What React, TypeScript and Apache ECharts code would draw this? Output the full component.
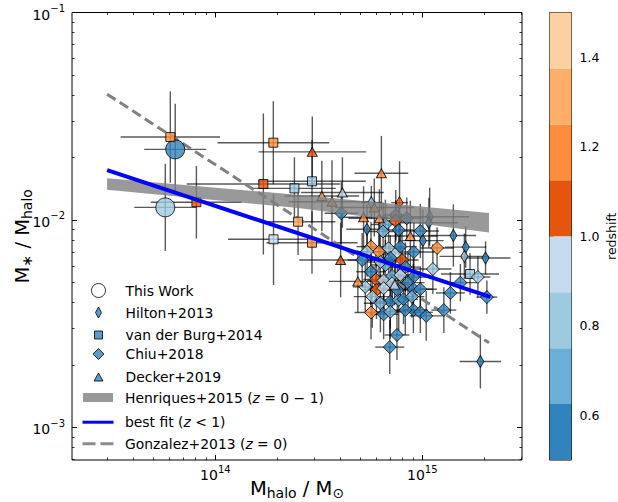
import React, { useEffect, useRef } from 'react';
import * as echarts from 'echarts';

const FONT = 'DejaVu Sans';

// Each row: [M_halo (Msun), M*/M_halo, redshift, sigma log M (dex), sigma log ratio (dex)]
const thisWork = [
  [6.4e13, 0.0219, 0.56, 0.15, 0.22],
  [5.73e13, 0.0115, 0.8, 0.15, 0.21],
];

const hilton2013 = [
  [5.67e14, 0.01214, 0.8, 0.05, 0.08],
  [7.76e14, 0.01212, 1.05, 0.04, 0.2],
  [1.085e15, 0.01037, 0.56, 0.19, 0.14],
  [1.075e15, 0.0097, 0.6, 0.14, 0.12],
  [5.4e14, 0.00902, 0.57, 0.1, 0.12],
  [1.006e15, 0.00795, 0.58, 0.1, 0.15],
  [1.412e15, 0.00842, 0.56, 0.11, 0.15],
  [1.62e15, 0.0074, 0.59, 0.1, 0.1],
  [1.596e15, 0.00668, 0.82, 0.12, 0.11],
  [2.02e15, 0.00656, 0.57, 0.12, 0.08],
  [1.907e15, 0.00208, 0.58, 0.1, 0.13],
];

const vanDerBurg2014 = [
  [6.06e13, 0.0251, 1.2, 0.24, 0.22],
  [8.1e13, 0.01218, 1.08, 0.22, 0.175],
  [1.706e14, 0.01491, 1.06, 0.37, 0.34],
  [1.906e14, 0.02358, 1.2, 0.27, 0.2],
  [2.41e14, 0.0142, 0.8, 0.2, 0.15],
  [1.91e14, 0.00807, 0.92, 0.22, 0.22],
  [2.51e14, 0.00981, 1.3, 0.18, 0.16],
  [2.93e14, 0.01536, 0.8, 0.26, 0.2],
  [2.93e14, 0.00777, 1.2, 0.22, 0.15],
  [1.7e15, 0.00549, 0.8, 0.14, 0.1],
];

const chiu2018 = [
  [4.06e14, 0.01077, 0.56, 0.08, 0.15],
  [7.44e14, 0.01057, 0.58, 0.06, 0.12],
  [8.41e14, 0.01019, 0.55, 0.07, 0.1],
  [7.44e14, 0.00989, 1.06, 0.06, 0.1],
  [6.63e14, 0.00951, 0.68, 0.07, 0.12],
  [6.46e14, 0.0088, 0.7, 0.08, 0.14],
  [7.69e14, 0.00895, 0.57, 0.07, 0.12],
  [9.78e14, 0.00885, 0.59, 0.09, 0.13],
  [1.178e15, 0.00733, 1.18, 0.08, 0.1],
  [5.65e14, 0.00744, 1.2, 0.07, 0.12],
  [6.17e14, 0.00703, 1.16, 0.09, 0.14],
  [6.87e14, 0.00731, 0.8, 0.08, 0.12],
  [7.4e14, 0.00686, 0.92, 0.07, 0.13],
  [7.98e14, 0.00641, 1.05, 0.08, 0.15],
  [9.1e14, 0.00701, 0.56, 0.1, 0.14],
  [7.83e14, 0.00744, 0.6, 0.08, 0.11],
  [5.41e14, 0.00703, 0.79, 0.08, 0.12],
  [5.12e14, 0.00641, 0.57, 0.07, 0.13],
  [5.63e14, 0.00563, 0.55, 0.07, 0.16],
  [5.96e14, 0.00517, 1.07, 0.06, 0.12],
  [6.5e14, 0.00511, 0.94, 0.08, 0.14],
  [7.14e14, 0.00537, 0.67, 0.06, 0.12],
  [7.83e14, 0.00543, 0.91, 0.07, 0.11],
  [9.05e14, 0.00531, 0.58, 0.08, 0.13],
  [1.124e15, 0.0058, 0.82, 0.09, 0.12],
  [1.366e15, 0.00445, 0.56, 0.07, 0.1],
  [1.527e15, 0.00499, 0.6, 0.08, 0.09],
  [1.855e15, 0.00531, 0.78, 0.06, 0.1],
  [2.05e15, 0.00425, 0.58, 0.05, 0.08],
  [6.0e14, 0.0046, 1.04, 0.07, 0.14],
  [5.73e14, 0.00427, 0.81, 0.09, 0.15],
  [6.5e14, 0.00469, 0.93, 0.08, 0.13],
  [7.14e14, 0.00495, 0.9, 0.07, 0.12],
  [8.52e14, 0.00499, 0.57, 0.08, 0.14],
  [9.05e14, 0.00464, 0.61, 0.09, 0.12],
  [9.78e14, 0.00464, 0.55, 0.08, 0.11],
  [7.0e14, 0.00404, 0.59, 0.07, 0.13],
  [7.69e14, 0.00412, 0.69, 0.08, 0.15],
  [8.11e14, 0.00415, 0.56, 0.07, 0.12],
  [8.9e14, 0.00427, 0.71, 0.06, 0.1],
  [6.27e14, 0.00397, 0.66, 0.08, 0.14],
  [5.65e14, 0.00358, 1.22, 0.08, 0.13],
  [6.5e14, 0.00351, 0.57, 0.07, 0.12],
  [7.0e14, 0.00361, 0.7, 0.08, 0.13],
  [9.05e14, 0.00368, 0.58, 0.07, 0.11],
  [9.78e14, 0.00359, 0.56, 0.06, 0.1],
  [1.044e15, 0.00345, 0.6, 0.08, 0.12],
  [1.27e15, 0.00368, 0.57, 0.06, 0.11],
  [7.54e14, 0.00279, 0.58, 0.06, 0.12],
  [6.96e14, 0.00244, 0.56, 0.07, 0.13],
  [8.27e14, 0.00368, 0.59, 0.07, 0.12],
  [6.63e14, 0.00607, 0.68, 0.07, 0.12],
  [7.0e14, 0.00656, 0.57, 0.08, 0.11],
  [8.27e14, 0.00593, 0.56, 0.07, 0.12],
  [6.27e14, 0.00627, 0.82, 0.08, 0.13],
  [5.3e14, 0.00476, 0.8, 0.06, 0.12],
  [7.57e14, 0.0046, 0.58, 0.07, 0.11],
];

const decker2019 = [
  [2.94e14, 0.0213, 1.08, 0.26, 0.17],
  [6.34e14, 0.0168, 1.2, 0.13, 0.18],
  [3.27e14, 0.01305, 1.3, 0.18, 0.17],
  [4.11e14, 0.01356, 0.93, 0.2, 0.17],
  [3.66e14, 0.01225, 1.2, 0.21, 0.2],
  [5.86e14, 0.01148, 1.2, 0.19, 0.14],
  [5.2e14, 0.0103, 1.2, 0.12, 0.15],
  [6.2e14, 0.0102, 1.2, 0.15, 0.14],
  [4.03e14, 0.00641, 1.06, 0.2, 0.18],
  [4.88e14, 0.00506, 1.2, 0.14, 0.15],
  [8.75e14, 0.00837, 1.2, 0.13, 0.17],
  [7.35e14, 0.00488, 0.93, 0.08, 0.1],
];

const henriquesMass = [3e13, 2.57e14, 2.1e15];
const henriquesLow = [0.014, 0.0114, 0.0087];
const henriquesHigh = [0.0159, 0.0132, 0.0108];

const bestFitMass = [3e13, 2.13e15];
const bestFitRatio = [0.0174, 0.00426];

const gonzalezMass = [3e13, 2.1e15];
const gonzalezRatio = [0.0404, 0.00256];

const redshiftEdges = [0.5, 0.625, 0.75, 0.875, 1.0, 1.125, 1.25, 1.375, 1.5];
const redshiftColors = ['#3182bd', '#6baed6', '#9ecae1', '#c6dbef', '#e6550d', '#fd8d3c', '#fdae6b', '#fdd0a2'];
const redshiftTicks = [0.6, 0.8, 1.0, 1.2, 1.4];

const massMajorTicks = [1e14, 1e15];
const massMinorTicks = [3e13, 4e13, 5e13, 6e13, 7e13, 8e13, 9e13, 2e14, 3e14, 4e14, 5e14, 6e14, 7e14, 8e14, 9e14, 2e15, 3e15];
const ratioMajorTicks = [1e-3, 1e-2, 1e-1];
const ratioMinorTicks = [7e-4, 8e-4, 9e-4, 2e-3, 3e-3, 4e-3, 5e-3, 6e-3, 7e-3, 8e-3, 9e-3, 2e-2, 3e-2, 4e-2, 5e-2, 6e-2, 7e-2, 8e-2, 9e-2];

const X_MIN = 2.03e13;
const X_MAX = 3.03e15;
const Y_MIN = 6.97e-4;
const Y_MAX = 0.1;

const LEGEND_NAMES = {
  tw: 'This Work',
  hi: 'Hilton+2013',
  vb: 'van der Burg+2014',
  ch: 'Chiu+2018',
  de: 'Decker+2019',
  he: 'Henriques+2015 (z = 0 − 1)',
  bf: 'best fit (z < 1)',
  go: 'Gonzalez+2013 (z = 0)',
};
const LEGEND_RICH_TEXT: Record<string, string> = {
  [LEGEND_NAMES.he]: 'Henriques+2015 ({i|z} = 0 − 1)',
  [LEGEND_NAMES.bf]: 'best fit ({i|z} < 1)',
  [LEGEND_NAMES.go]: 'Gonzalez+2013 ({i|z} = 0)',
};

const BLUE_MARK = '#3182bd';

function toErr(rows: number[][]) {
  return rows.map((r) => {
    const [m, f, , dm, df] = r;
    return [m, f, m / Math.pow(10, dm), m * Math.pow(10, dm), f / Math.pow(10, df), f * Math.pow(10, df)];
  });
}

const supRich = {
  b: { fontFamily: FONT, fontSize: 14, color: '#000', lineHeight: 18, verticalAlign: 'bottom' },
  s: { fontFamily: FONT, fontSize: 10, color: '#000', lineHeight: 18, verticalAlign: 'top' },
};

function powLabel(v: number) {
  const e = Math.round(Math.log10(v));
  const es = e < 0 ? '−' + String(-e) : String(e);
  return '{b|10}{s|' + es + '}';
}

const nameRich = {
  m: { fontFamily: FONT, fontSize: 19.5, color: '#000', lineHeight: 22, verticalAlign: 'top' },
  sub: { fontFamily: FONT, fontSize: 14, color: '#000', lineHeight: 22, verticalAlign: 'bottom' },
};

function buildOption() {
  const tickLine = { color: '#000', width: 1 };
  const xBase = {
    type: 'log', logBase: 10, min: X_MIN, max: X_MAX, gridIndex: 0,
    axisLine: { show: false }, splitLine: { show: false }, minorTick: { show: false },
  };
  const yBase = {
    type: 'log', logBase: 10, min: Y_MIN, max: Y_MAX, gridIndex: 0,
    axisLine: { show: false }, splitLine: { show: false }, minorTick: { show: false },
  };
  const majorTickX = { inside: true, length: 5, customValues: massMajorTicks, lineStyle: tickLine };
  const minorTickX = { inside: true, length: 2.5, customValues: massMinorTicks, lineStyle: { color: '#000', width: 0.8 } };
  const majorTickY = { inside: true, length: 5, customValues: ratioMajorTicks, lineStyle: tickLine };
  const minorTickY = { inside: true, length: 2.5, customValues: ratioMinorTicks, lineStyle: { color: '#000', width: 0.8 } };

  const errData = toErr([...thisWork, ...hilton2013, ...vanDerBurg2014, ...chiu2018, ...decker2019]);

  const markStyle = { borderColor: '#000', borderWidth: 1 };
  const scatterBase = { type: 'scatter', xAxisIndex: 0, yAxisIndex: 0, z: 3, encode: { x: 0, y: 1 } };

  const pieces = redshiftColors.map((c, i) => (
    i === redshiftColors.length - 1
      ? { gte: redshiftEdges[i], lte: redshiftEdges[i + 1], color: c }
      : { gte: redshiftEdges[i], lt: redshiftEdges[i + 1], color: c }
  ));

  const legendText = { fontFamily: FONT, fontSize: 13.9, color: '#000' };
  const mkLegend = (name: string, icon: string, w: number, h: number, cy: number, itemStyle: any) => {
    const left = 98 - w / 2;
    const pad = 125 - (left + w + 5);
    return {
      show: true, orient: 'vertical', left, top: cy - h / 2, padding: 0,
      itemWidth: w, itemHeight: h, selectedMode: false,
      data: [{ name, icon, itemStyle }],
      formatter: (n: string) => LEGEND_RICH_TEXT[n] || n,
      textStyle: {
        ...legendText, padding: [0, 0, 0, pad],
        rich: { i: { ...legendText, fontStyle: 'italic' } },
      },
    };
  };
  const filled = { color: BLUE_MARK, borderColor: '#000', borderWidth: 1 };

  return {
    animation: false,
    backgroundColor: '#fff',
    grid: [
      { left: 72, top: 12.5, width: 450, height: 447.5, show: true, borderColor: '#000', borderWidth: 1, backgroundColor: 'transparent', outerBoundsMode: 'none', containLabel: false },
      { left: 549.5, top: 12.5, width: 22, height: 447.5, show: true, borderColor: '#000', borderWidth: 1, backgroundColor: 'transparent', outerBoundsMode: 'none', containLabel: false },
    ],
    xAxis: [
      {
        ...xBase, position: 'bottom', axisTick: majorTickX,
        axisLabel: { customValues: massMajorTicks, formatter: powLabel, rich: supRich, margin: 4 },
        name: '{m|M}{sub|halo}{m| / M}{sub|⊙}', nameLocation: 'middle', nameGap: 18, nameMoveOverlap: false,
        nameTextStyle: { rich: nameRich },
      },
      { ...xBase, position: 'bottom', axisTick: minorTickX, axisLabel: { show: false } },
      { ...xBase, position: 'top', axisTick: majorTickX, axisLabel: { show: false } },
      { ...xBase, position: 'top', axisTick: minorTickX, axisLabel: { show: false } },
      { gridIndex: 1, type: 'value', min: 0, max: 1, show: false },
    ],
    yAxis: [
      {
        ...yBase, position: 'left', axisTick: majorTickY,
        axisLabel: { customValues: ratioMajorTicks, formatter: powLabel, rich: supRich, margin: 7 },
        name: '{m|M}{sub|∗}{m| / M}{sub|halo}', nameLocation: 'middle', nameGap: 38, nameRotate: 90, nameMoveOverlap: false,
        nameTextStyle: { rich: nameRich },
      },
      { ...yBase, position: 'left', axisTick: minorTickY, axisLabel: { show: false } },
      { ...yBase, position: 'right', axisTick: majorTickY, axisLabel: { show: false } },
      { ...yBase, position: 'right', axisTick: minorTickY, axisLabel: { show: false } },
      {
        gridIndex: 1, type: 'value', min: 0.5, max: 1.5, position: 'right',
        axisLine: { show: false }, splitLine: { show: false },
        axisTick: { show: true, inside: false, length: 4, customValues: redshiftTicks, lineStyle: tickLine },
        axisLabel: {
          customValues: redshiftTicks, formatter: (v: number) => v.toFixed(1), margin: 8,
          fontFamily: FONT, fontSize: 12.5, color: '#000',
        },
        name: 'redshift', nameLocation: 'middle', nameRotate: 90, nameGap: 34, nameMoveOverlap: false,
        nameTextStyle: { fontFamily: FONT, fontSize: 12.5, color: '#000', lineHeight: 12 },
      },
    ],
    visualMap: {
      type: 'piecewise', show: false, dimension: 2, seriesIndex: [2, 3, 4, 5, 6], pieces,
    },
    legend: [
      mkLegend(LEGEND_NAMES.tw, 'circle', 14, 14, 290, { color: '#fff', borderColor: '#000', borderWidth: 1 }),
      mkLegend(LEGEND_NAMES.hi, 'path://M3,0L6,5.5L3,11L0,5.5Z', 6, 11, 311, filled),
      mkLegend(LEGEND_NAMES.vb, 'rect', 8, 8, 332, filled),
      mkLegend(LEGEND_NAMES.ch, 'diamond', 11, 11, 352.5, filled),
      mkLegend(LEGEND_NAMES.de, 'triangle', 9, 8, 374, filled),
      mkLegend(LEGEND_NAMES.he, 'rect', 30, 9, 395, { color: 'rgba(128,128,128,0.8)', borderWidth: 0 }),
      mkLegend(LEGEND_NAMES.bf, 'rect', 31, 3, 416.7, { color: '#0000ff', borderWidth: 0 }),
      mkLegend(LEGEND_NAMES.go, 'path://M0,0h13v3h-13zM18,0h13v3h-13z', 31, 3, 438.3, { color: '#8c8c8c', borderWidth: 0 }),
    ],
    series: [
      {
        type: 'custom', name: 'errorbars', xAxisIndex: 0, yAxisIndex: 0, z: 1, silent: true,
        data: errData, encode: { x: [0, 2, 3], y: [1, 4, 5] },
        renderItem: (params: any, api: any) => {
          const xl = api.coord([api.value(2), api.value(1)]);
          const xh = api.coord([api.value(3), api.value(1)]);
          const yl = api.coord([api.value(0), api.value(4)]);
          const yh = api.coord([api.value(0), api.value(5)]);
          const style = { stroke: 'rgba(0,0,0,0.65)', lineWidth: 1.4 };
          return {
            type: 'group',
            children: [
              { type: 'line', shape: { x1: xl[0], y1: xl[1], x2: xh[0], y2: xh[1] }, style },
              { type: 'line', shape: { x1: yl[0], y1: yl[1], x2: yh[0], y2: yh[1] }, style },
            ],
          };
        },
      },
      {
        type: 'line', name: LEGEND_NAMES.go, xAxisIndex: 0, yAxisIndex: 0, z: 2,
        data: gonzalezMass.map((m, i) => [m, gonzalezRatio[i]]), showSymbol: false, symbol: 'none',
        lineStyle: { color: '#808080', width: 3, type: [10, 5] }, silent: true,
      },
      { ...scatterBase, name: LEGEND_NAMES.tw, data: thisWork, symbol: 'circle', symbolSize: 19, itemStyle: markStyle },
      { ...scatterBase, name: LEGEND_NAMES.hi, data: hilton2013, symbol: 'diamond', symbolSize: [7, 12], itemStyle: markStyle },
      { ...scatterBase, name: LEGEND_NAMES.vb, data: vanDerBurg2014, symbol: 'rect', symbolSize: 9, itemStyle: markStyle },
      { ...scatterBase, name: LEGEND_NAMES.ch, data: chiu2018, symbol: 'diamond', symbolSize: 13, itemStyle: markStyle },
      { ...scatterBase, name: LEGEND_NAMES.de, data: decker2019, symbol: 'triangle', symbolSize: [10, 9], itemStyle: markStyle },
      {
        type: 'custom', name: LEGEND_NAMES.he, xAxisIndex: 0, yAxisIndex: 0, z: 4, silent: true,
        data: henriquesMass.map((m, i) => [m, henriquesLow[i], henriquesHigh[i]]),
        encode: { x: 0, y: [1, 2] },
        renderItem: (params: any, api: any) => {
          if (params.dataIndex !== 0) return null;
          const top = henriquesMass.map((m, i) => api.coord([m, henriquesHigh[i]]));
          const bot = henriquesMass.map((m, i) => api.coord([m, henriquesLow[i]])).reverse();
          return { type: 'polygon', shape: { points: [...top, ...bot] }, style: { fill: 'rgba(128,128,128,0.8)' } };
        },
      },
      {
        type: 'line', name: LEGEND_NAMES.bf, xAxisIndex: 0, yAxisIndex: 0, z: 5,
        data: bestFitMass.map((m, i) => [m, bestFitRatio[i]]), showSymbol: false, symbol: 'none',
        lineStyle: { color: '#0000ff', width: 4 }, silent: true,
      },
      {
        type: 'custom', name: 'colorbar', xAxisIndex: 4, yAxisIndex: 4, silent: true,
        data: redshiftColors.map((c, i) => [redshiftEdges[i], redshiftEdges[i + 1]]),
        encode: { y: [0, 1] },
        renderItem: (params: any, api: any) => {
          const i = params.dataIndex;
          const p1 = api.coord([0, redshiftEdges[i]]);
          const p2 = api.coord([1, redshiftEdges[i + 1]]);
          return {
            type: 'rect',
            shape: { x: p1[0], y: p2[1], width: p2[0] - p1[0], height: p1[1] - p2[1] },
            style: { fill: redshiftColors[i] },
          };
        },
      },
    ],
  };
}

export default function App() {
  const ref = useRef<HTMLDivElement>(null);
  useEffect(() => {
    const chart = echarts.init(ref.current!, null, { renderer: 'svg' });
    chart.setOption(buildOption() as any);
    return () => chart.dispose();
  }, []);
  return <div ref={ref} style={{ position: 'absolute', left: 0, top: 0, width: 618, height: 502 }} />;
}
